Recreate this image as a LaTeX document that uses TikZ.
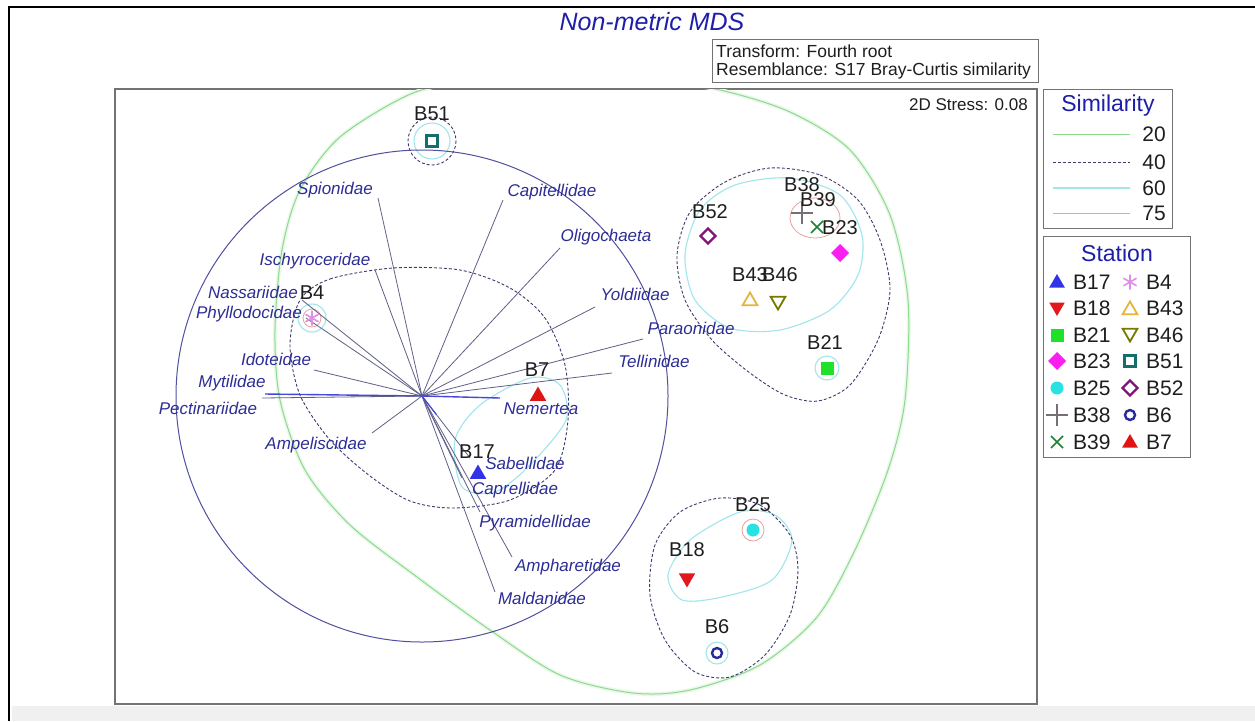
\documentclass[tikz,border=0pt]{standalone}
\usepackage{fontspec}
\setmainfont{Liberation Sans}
\usetikzlibrary{shapes.geometric,shapes.misc,calc}
\definecolor{ttlblue}{RGB}{30,30,170}
\definecolor{spblue}{RGB}{45,45,150}
\definecolor{vecc}{RGB}{95,95,135}
\definecolor{vecblue}{RGB}{70,70,220}
\definecolor{circblue}{RGB}{80,80,160}
\definecolor{dashc}{RGB}{60,60,110}
\definecolor{cg}{RGB}{140,218,140}
\definecolor{cc}{RGB}{160,230,236}
\definecolor{cr}{RGB}{232,160,160}
\definecolor{frameg}{RGB}{115,115,115}
\definecolor{txt}{RGB}{30,30,30}
\definecolor{cB17}{RGB}{50,50,230}
\definecolor{cB18}{RGB}{225,25,30}
\definecolor{cB21}{RGB}{30,225,40}
\definecolor{cB23}{RGB}{250,30,240}
\definecolor{cB25}{RGB}{40,225,225}
\definecolor{cB38}{RGB}{120,110,120}
\definecolor{cB39}{RGB}{30,130,50}
\definecolor{cB4}{RGB}{225,140,230}
\definecolor{cB43}{RGB}{230,180,60}
\definecolor{cB46}{RGB}{120,120,0}
\definecolor{cB51}{RGB}{20,110,110}
\definecolor{cB52}{RGB}{130,20,120}
\definecolor{cB6}{RGB}{40,40,160}
\definecolor{cB7}{RGB}{225,20,20}
\begin{document}
\begin{tikzpicture}[x=1pt,y=-1pt,
  sp/.style={font=\fontsize{17}{20}\selectfont\itshape,text=spblue,inner sep=0pt},
  stl/.style={font=\fontsize{20}{24}\selectfont,text=txt,inner sep=0pt},
  lgl/.style={font=\fontsize{21}{25}\selectfont,text=txt,inner sep=0pt,anchor=west},
  lgt/.style={font=\fontsize{23}{27}\selectfont,text=ttlblue,inner sep=0pt},
  boxt/.style={font=\fontsize{17.5}{20}\selectfont,text=txt,inner sep=0pt,anchor=west},
  vec/.style={draw=vecc,line width=0.8pt},
  vecb/.style={draw=vecblue,line width=1.4pt},
  lev20/.style={draw=cg,line width=1pt},
  lev40/.style={draw=dashc,line width=0.9pt,dash pattern=on 3pt off 2pt},
  lev60/.style={draw=cc,line width=1.1pt},
  lev75/.style={draw=cr,line width=0.8pt},
  mk/.style={inner sep=0pt,outer sep=0pt},
  tup/.style={mk,regular polygon,regular polygon sides=3,minimum size=19pt},
  tdn/.style={tup,shape border rotate=180},
  sqm/.style={mk,rectangle,minimum size=13pt},
  dim/.style={mk,diamond,minimum size=18pt},
  cim/.style={mk,circle,minimum size=13pt},
  plm/.style={mk,cross out,minimum size=15pt,rotate=45,line width=1.4pt},
  xm/.style={mk,cross out,minimum size=12pt,line width=1.6pt},
  astm/.style={mk,circle,minimum size=15pt},
]
\useasboundingbox (0,0) rectangle (1255,721);
\fill[white] (0,0) rectangle (1255,721);
\fill[gray!12] (12,706) rectangle (1255,721);
\draw[black,line width=2.5pt] (9,721) -- (9,7) -- (1255,7);

% title and info box
\node[font=\fontsize{25}{30}\selectfont\itshape,text=ttlblue,inner sep=0pt] (title) at (652,22) {Non-metric MDS};
\draw[frameg,line width=0.8pt] (712,39) rectangle (1038,82);
\node[boxt] (tr) at (716,51) {Transform: Fourth root};
\node[boxt] (rs) at (716,71) {Resemblance: S17 Bray-Curtis similarity};

% plot frame
\draw[frameg,line width=1.3pt] (115,89) rectangle (1037,704);
\node[font=\fontsize{17}{20}\selectfont,text=txt,inner sep=0pt,anchor=east] (stress) at (1028,105) {2D Stress: 0.08};

\begin{scope}
\clip (115,89) rectangle (1037,704);
% 20 contour
\draw[cg!18,line width=4pt] plot[smooth cycle] coordinates {(413,93) (480,80) (560,75) (640,78) (720,90) (790,112) (850,150) (890,215) (908,300) (905,400) (888,470) (855,550) (817,617) (760,665) (690,690) (633,693) (560,675) (490,630) (417,577) (350,525) (305,470) (280,400) (275,330) (282,250) (300,190) (340,137)};
\draw[lev20] plot[smooth cycle] coordinates {(413,93) (480,80) (560,75) (640,78) (720,90) (790,112) (850,150) (890,215) (908,300) (905,400) (888,470) (855,550) (817,617) (760,665) (690,690) (633,693) (560,675) (490,630) (417,577) (350,525) (305,470) (280,400) (275,330) (282,250) (300,190) (340,137)};
% 60 contours
\draw[lev60] (432,141) circle[radius=18];
\draw[lev60] (312,318) circle[radius=14];
\draw[lev60] plot[smooth cycle] coordinates {(455,440) (480,405) (530,378) (560,385) (566,420) (530,465) (495,492) (462,487)};
\draw[lev60] plot[smooth cycle] coordinates {(700,210) (735,185) (790,178) (840,195) (862,235) (858,275) (830,310) (780,330) (730,328) (695,300) (685,255)};
\draw[lev60] (827,368) circle[radius=12];
\draw[lev60] plot[smooth cycle] coordinates {(668,575) (690,540) (740,512) (775,515) (792,540) (772,580) (722,597) (682,600)};
\draw[lev60] (717,653) circle[radius=11];
% 75 contours
\draw[lev75] (815,218) ellipse[x radius=25,y radius=20];
\draw[lev75] (753,530) circle[radius=11];
\draw[lev75] (312,318) circle[radius=9];
% 40 contours
\draw[lev40] (432,141) circle[radius=24];
\draw[lev40] plot[smooth cycle] coordinates {(300,300) (330,279) (393,268) (460,270) (510,288) (545,318) (565,365) (568,420) (555,470) (510,500) (453,508) (410,501) (370,476) (330,440) (300,395) (290,345)};
\draw[lev40] plot[smooth cycle] coordinates {(770,168) (820,175) (858,200) (880,240) (890,290) (878,340) (850,385) (818,401) (785,395) (750,373) (712,340) (685,300) (677,255) (690,212) (725,182)};
\draw[lev40] plot[smooth cycle] coordinates {(720,498) (760,505) (790,535) (798,570) (790,615) (765,655) (730,677) (695,672) (665,640) (650,595) (655,545) (680,512)};
% vector circle
\coordinate (O) at (422,396);
\draw[circblue,line width=1pt] (O) circle[radius=246];
\end{scope}

% vector ends
\coordinate (vSpi) at (378,198);
\coordinate (vCap) at (503,200);
\coordinate (vOli) at (560,248);
\coordinate (vIsc) at (375,270);
\coordinate (vNas) at (302,300);
\coordinate (vPhy) at (306,318);
\coordinate (vIdo) at (314,370);
\coordinate (vMyt) at (265,394);
\coordinate (vPec) at (262,398);
\coordinate (vAmp) at (372,433);
\coordinate (vYol) at (595,307);
\coordinate (vPar) at (643,339);
\coordinate (vTel) at (612,373);
\coordinate (vNem) at (500,398);
\coordinate (vSab) at (470,458);
\coordinate (vCapr) at (462,478);
\coordinate (vPyr) at (480,512);
\coordinate (vAmph) at (512,557);
\coordinate (vMal) at (495,592);
\foreach \e in {vSpi,vCap,vOli,vIsc,vNas,vPhy,vIdo,vAmp,vYol,vPar,vTel,vSab,vCapr,vPyr,vAmph,vMal}
  \draw[vec] (O) -- (\e);
\draw[vecb] (O) -- (vMyt);
\draw[vec] (O) -- (vPec);
\draw[vecb] (O) -- (vNem);
\draw[vecblue,line width=1.2pt] (O) -- ($(O)!0.3!(vSab)$);

% species labels
\node[sp] (Spi) at (335,190) {Spionidae};
\node[sp] (Cap) at (552,192) {Capitellidae};
\node[sp] (Oli) at (606,237) {Oligochaeta};
\node[sp] (Isc) at (315,261) {Ischyroceridae};
\node[sp] (Nas) at (253,292) {Nassariidae};
\node[sp] (Phy) at (249,314) {Phyllodocidae};
\node[sp] (Ido) at (276,359) {Idoteidae};
\node[sp] (Myt) at (232,383) {Mytilidae};
\node[sp] (Pec) at (208,408) {Pectinariidae};
\node[sp] (Amp) at (316,445) {Ampeliscidae};
\node[sp] (Yol) at (635,294) {Yoldiidae};
\node[sp] (Par) at (691,328) {Paraonidae};
\node[sp] (Tel) at (654,361) {Tellinidae};
\node[sp] (Nem) at (541,409) {Nemertea};
\node[sp] (Sab) at (525,463) {Sabellidae};
\node[sp] (Capr) at (515,490) {Caprellidae};
\node[sp] (Pyr) at (535,523) {Pyramidellidae};
\node[sp] (Amph) at (568,567) {Ampharetidae};
\node[sp] (Mal) at (542,598) {Maldanidae};

% station markers
\node[sqm,draw=cB51,line width=2.4pt,minimum size=11pt] (m51) at (432,141) {};
\node[dim,draw=cB52,line width=2.2pt,minimum size=15pt] (m52) at (708,236) {};
\node[plm,draw=cB38] (m38) at (802,213) {};
\node[xm,draw=cB39] (m39) at (817,227) {};
\node[dim,fill=cB23] (m23) at (840,253) {};
\node[tup,draw=cB43,line width=1.8pt,minimum size=17pt] (m43) at (750,301) {};
\node[tdn,draw=cB46,line width=1.8pt,minimum size=17pt] (m46) at (778,301) {};
\node[sqm,fill=cB21] (m21) at (827,368) {};
\node[astm] (m4) at (312,318) {};
\draw[cB4,line width=1.6pt] (m4.90) -- (m4.270) (m4.30) -- (m4.210) (m4.150) -- (m4.330);
\node[tup,fill=cB7] (m7) at (538,396) {};
\node[tup,fill=cB17] (m17) at (478,474) {};
\node[cim,fill=cB25] (m25) at (753,530) {};
\node[tdn,fill=cB18] (m18) at (687,578) {};
\node[cim,draw=cB6,line width=2.4pt,minimum size=10pt] (m6) at (717,653) {};

% station labels
\node[stl] (l51) at (432,114) {B51};
\node[stl] (l52) at (710,212) {B52};
\node[stl] (l38) at (802,185) {B38};
\node[stl] (l39) at (818,200) {B39};
\node[stl] (l23) at (840,228) {B23};
\node[stl] (l43) at (750,275) {B43};
\node[stl] (l46) at (780,275) {B46};
\node[stl] (l21) at (825,343) {B21};
\node[stl] (l4) at (312,293) {B4};
\node[stl] (l7) at (537,370) {B7};
\node[stl] (l17) at (477,452) {B17};
\node[stl] (l25) at (753,505) {B25};
\node[stl] (l18) at (687,550) {B18};
\node[stl] (l6) at (717,627) {B6};

% similarity legend
\draw[frameg,line width=0.9pt] (1043,89) rectangle (1172,228);
\node[lgt] (simt) at (1108,106) {Similarity};
\coordinate (a20) at (1053,134); \coordinate (b20) at (1130,134);
\coordinate (a40) at (1053,162); \coordinate (b40) at (1130,162);
\coordinate (a60) at (1053,188); \coordinate (b60) at (1130,188);
\coordinate (a75) at (1053,213); \coordinate (b75) at (1130,213);
\draw[lev20] (a20) -- (b20);
\draw[lev40] (a40) -- (b40);
\draw[lev60] (a60) -- (b60);
\draw[lev75] (a75) -- (b75);
\node[lgl,anchor=east] (n20) at (1166,134) {20};
\node[lgl,anchor=east] (n40) at (1166,162) {40};
\node[lgl,anchor=east] (n60) at (1166,188) {60};
\node[lgl,anchor=east] (n75) at (1166,213) {75};

% station legend
\draw[frameg,line width=0.9pt] (1043,236) rectangle (1190,457);
\node[lgt] (stt) at (1117,253) {Station};
\node[tup,fill=cB17,minimum size=18pt] (g17) at (1057,283) {};
\node[lgl] (t17) at (1073,282) {B17};
\node[tdn,fill=cB18,minimum size=18pt] (g18) at (1057,307) {};
\node[lgl] (t18) at (1073,308) {B18};
\node[sqm,fill=cB21] (g21) at (1057,335) {};
\node[lgl] (t21) at (1073,335) {B21};
\node[dim,fill=cB23] (g23) at (1057,361) {};
\node[lgl] (t23) at (1073,361) {B23};
\node[cim,fill=cB25] (g25) at (1057,388) {};
\node[lgl] (t25) at (1073,388) {B25};
\node[plm,draw=cB38] (g38) at (1057,415) {};
\node[lgl] (t38) at (1073,415) {B38};
\node[xm,draw=cB39] (g39) at (1057,442) {};
\node[lgl] (t39) at (1073,442) {B39};
\node[astm] (g4) at (1130,282) {};
\draw[cB4,line width=1.6pt] (g4.90) -- (g4.270) (g4.30) -- (g4.210) (g4.150) -- (g4.330);
\node[lgl] (t4) at (1146,282) {B4};
\node[tup,draw=cB43,line width=1.8pt,minimum size=17pt] (g43) at (1130,310) {};
\node[lgl] (t43) at (1146,308) {B43};
\node[tdn,draw=cB46,line width=1.8pt,minimum size=17pt] (g46) at (1130,333) {};
\node[lgl] (t46) at (1146,335) {B46};
\node[sqm,draw=cB51,line width=2.4pt,minimum size=11pt] (g51) at (1130,361) {};
\node[lgl] (t51) at (1146,361) {B51};
\node[dim,draw=cB52,line width=2.2pt,minimum size=15pt] (g52) at (1130,388) {};
\node[lgl] (t52) at (1146,388) {B52};
\node[cim,draw=cB6,line width=2.4pt,minimum size=10pt] (g6) at (1130,415) {};
\node[lgl] (t6) at (1146,415) {B6};
\node[tup,fill=cB7,minimum size=18pt] (g7) at (1130,443) {};
\node[lgl] (t7) at (1146,442) {B7};
\end{tikzpicture}
\end{document}
